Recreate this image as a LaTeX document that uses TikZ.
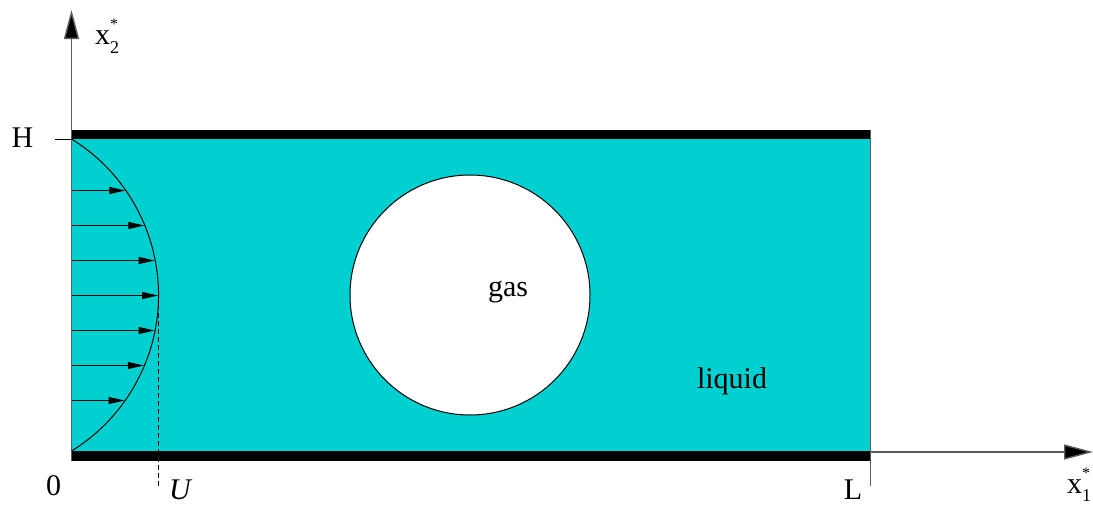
\documentclass[tikz,border=0pt]{standalone}
\usepackage{fontspec}
\setmainfont{Liberation Serif}
\usetikzlibrary{arrows.meta}
\definecolor{liq}{RGB}{0,208,208}
\definecolor{axisgray}{RGB}{90,90,90}
\tikzset{
  lbl/.style={anchor=base, inner sep=0pt, font=\fontsize{30}{36}\selectfont},
  axisline/.style={draw=axisgray, line width=1.4pt, -{Triangle[length=29pt,width=15pt,fill=black]}},
  velarrow/.style={draw=black, line width=1pt, -{Triangle[length=16pt,width=7pt]}},
  wall/.style={fill=black},
}
\newcommand{\axlabel}[1]{x\rlap{\raisebox{-0.28em}{\fontsize{18}{18}\selectfont #1}}\raisebox{0.5em}{\fontsize{16}{16}\selectfont *}}
\begin{document}
\begin{tikzpicture}[x=1pt,y=-1pt]
\useasboundingbox (0,0) rectangle (1093,506);
% liquid region
\fill[liq] (71,139) rectangle (870,451);
% walls
\fill[wall] (71,130) rectangle (870,139);
\fill[wall] (71,451) rectangle (870,461);
% right edge
\draw[axisgray, line width=1pt] (870,130) -- (870,486);
% axes
\coordinate (o) at (71.5,461);
\coordinate (ytip) at (71.5,10);
\coordinate (xstart) at (870,452);
\coordinate (xtip) at (1093,452);
\draw[axisline] (o) -- (ytip);
\draw[axisline] (xstart) -- (xtip);
% H tick
\coordinate (ht0) at (55,139.5);
\coordinate (ht1) at (71.5,139.5);
\draw[line width=1pt] (ht0) -- (ht1);
% bubble
\node[circle, draw=black, fill=white, line width=1pt, minimum size=240pt, inner sep=0pt] (bubble) at (470,295) {};
% velocity profile (circular arc)
\coordinate (ptop) at (71.5,139);
\draw[line width=1pt] (ptop) arc[start angle=-58.3, end angle=58.3, radius=183.4];
\coordinate (a1) at (71.5,190.5); \coordinate (b1) at (125.3,190.5);
\coordinate (a2) at (71.5,225.5); \coordinate (b2) at (144.3,225.5);
\coordinate (a3) at (71.5,260.5); \coordinate (b3) at (154.7,260.5);
\coordinate (a4) at (71.5,295.5); \coordinate (b4) at (158,295.5);
\coordinate (a5) at (71.5,330.5); \coordinate (b5) at (154.5,330.5);
\coordinate (a6) at (71.5,365.5); \coordinate (b6) at (143.9,365.5);
\coordinate (a7) at (71.5,400.5); \coordinate (b7) at (124.6,400.5);
\foreach \i in {1,...,7} { \draw[velarrow] (a\i) -- (b\i); }
% dashed U line
\coordinate (u0) at (158.5,297);
\coordinate (u1) at (158.5,487);
\draw[dashed, dash pattern=on 5pt off 3pt, line width=0.9pt] (u0) -- (u1);
% labels
\node[lbl] (gas) at (508,296) {gas};
\node[lbl] (liquid) at (732,388) {liquid};
\node[lbl] (H) at (22.5,147) {H};
\node[lbl] (zero) at (53.5,495) {0};
\node[lbl] (U) at (180,499) {\itshape U};
\node[lbl] (L) at (853,499) {L};
\node[lbl, anchor=base west] (x2) at (95,45) {\axlabel{2}};
\node[lbl, anchor=base west] (x1) at (1067,493) {\axlabel{1}};
\end{tikzpicture}
\end{document}
